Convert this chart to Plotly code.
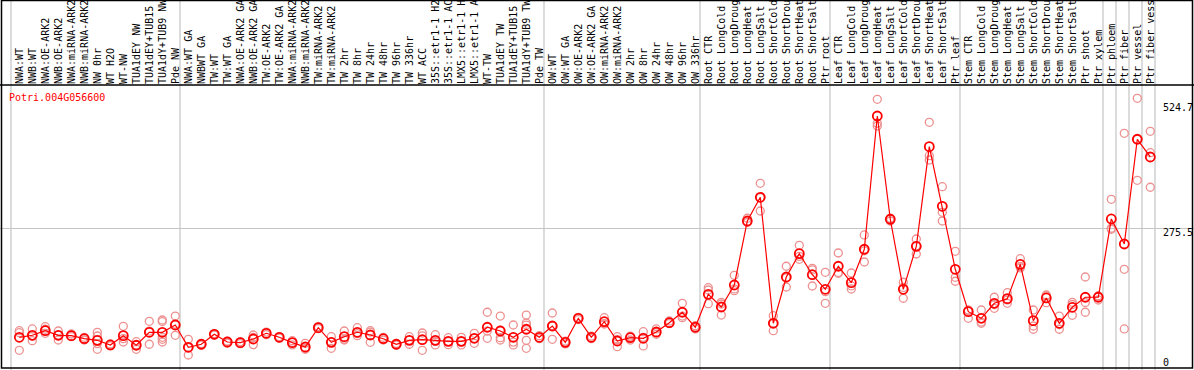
import plotly.graph_objects as go

categories = [
    "NWA:WT", "NWB:WT", "NWA:OE-ARK2", "NWB:OE-ARK2", "NWA:miRNA-ARK2", "NWB:miRNA-ARK2",
    "NW 0hr", "WT H2O", "WT-NW", "TUA1dEY NW", "TUA1dEY+TUB15", "TUA1dY+TUB9 NW", "Pde NW",
    "NWA:WT GA", "NWBWT GA", "TW:WT", "TW:WT GA", "NWA:OE-ARK2 GA", "NWB:OE-ARK2 GA",
    "TW:OE-ARK2", "TW:OE-ARK2 GA", "NWA:miRNA-ARK2", "NWB:miRNA-ARK2", "TW:miRNA-ARK2",
    "TW:miRNA-ARK2", "TW 2hr", "TW 8hr", "TW 24hr", "TW 48hr", "TW 96hr", "TW 336hr", "WT ACC",
    "35S::etr1-1 H2O", "35S::etr1-1 ACC", "LMX5::etr1-1 H2O", "LMX5::etr1-1 ACC", "WT-TW",
    "TUA1dEY TW", "TUA1dEY+TUB15", "TUA1dY+TUB9 TW", "Pde TW",
    "OW:WT", "OW:WT GA", "OW:OE-ARK2", "OW:OE-ARK2 GA", "OW:miRNA-ARK2", "OW:miRNA-ARK2",
    "OW 2hr", "OW 8hr", "OW 24hr", "OW 48hr", "OW 96hr", "OW 336hr",
    "Root CTR", "Root LongCold", "Root LongDrought", "Root LongHeat", "Root LongSalt",
    "Root ShortCold", "Root ShortDrought", "Root ShortHeat", "Root ShortSalt", "Ptr root",
    "Leaf CTR", "Leaf LongCold", "Leaf LongDrought", "Leaf LongHeat", "Leaf LongSalt",
    "Leaf ShortCold", "Leaf ShortDrought", "Leaf ShortHeat", "Leaf ShortSalt", "Ptr leaf",
    "Stem CTR", "Stem LongCold", "Stem LongDrought", "Stem LongHeat", "Stem LongSalt",
    "Stem ShortCold", "Stem ShortDrought", "Stem ShortHeat", "Stem ShortSalt", "Ptr shoot",
    "Ptr xylem", "Ptr phloem", "Ptr fiber", "Ptr vessel", "Ptr fiber vessel",
]

group_sizes = [13, 28, 12, 10, 10, 11, 1, 1, 1, 1]

means = [
    57.6, 61.6, 70.8, 61.6, 60.8, 54.8, 51.6, 42.3, 60.8, 41.7, 67.6, 67.6, 82.1,
    37.7, 43.7, 63.6, 48.2, 46.9, 54.2, 65.6, 57.6, 46.9, 38.3, 76.8, 47.6, 58.8, 67.6,
    62.2, 54.8, 43.7, 51.6, 52.8, 51.6, 49.6, 49.6, 55.6, 77.6, 70.2, 57.6, 73.6, 57.6,
    80.1, 47.6, 95.5, 57.6, 88.7, 50.2, 56.8, 55.6, 68.2, 86.7, 107.5, 77.6,
    143.3, 118.0, 161.9, 289.5, 336.7, 85.5, 177.8, 224.3, 182.4, 153.3,
    199.2, 166.5, 233.1, 498.8, 292.9, 153.3, 239.0, 437.6, 318.8, 193.2,
    108.7, 95.5, 125.4, 134.6, 203.1, 90.7, 136.0, 85.5, 117.4, 137.4, 137.4,
    293.5, 243.6, 452.4, 417.1,
]

replicates = [
    [70.8, 66.8, 31.7], [74.2, 50.8, 60.0], [78.7, 73.6, 65.6], [70.2, 52.2, 62.0],
    [64.2, 58.8], [57.6, 52.2], [67.6, 60.2, 33.7, 45.0], [44.3, 40.3], [79.5, 48.2, 55.0],
    [48.8, 33.7, 42.0], [89.5, 43.7, 70.0], [92.1, 89.0, 57.6, 53.6, 48.2], [100.0, 61.6, 84.0],
    [53.6, 22.3, 37.0], [45.0, 42.0], [65.0, 62.0], [50.0, 46.0], [49.0, 45.0],
    [62.2, 57.6, 43.0], [68.0, 63.0], [59.0, 56.0], [50.8, 42.3, 47.6], [45.6, 33.7, 35.6],
    [79.0, 75.0], [58.8, 35.7, 48.3], [70.2, 52.2, 54.0], [76.8, 60.8, 65.0],
    [70.8, 47.6, 68.0], [57.6, 52.2], [45.6, 41.8], [58.8, 43.7, 52.0], [66.2, 31.7, 60.5],
    [62.8, 42.3, 49.6], [56.8, 42.9, 49.0], [57.6, 42.3, 49.0], [65.6, 45.6, 55.6],
    [107.5, 55.6, 70.0], [100.0, 56.8, 52.2, 72.0], [82.1, 42.3, 48.0],
    [102.0, 86.0, 82.0, 51.6, 35.7], [60.8, 55.0],
    [106.0, 53.6, 80.5], [44.3, 50.0], [97.5, 93.0], [60.0, 55.0], [96.7, 84.1, 85.0],
    [58.8, 38.9, 53.0], [52.2, 60.0, 58.0], [68.8, 40.3, 57.6], [74.2, 63.6, 66.8],
    [90.1, 85.0], [125.4, 96.7, 100.0], [80.7, 74.2],
    [156.5, 151.9, 124.6], [127.4, 102.0, 124.0], [181.2, 150.5, 154.0], [294.9, 286.9, 287.0],
    [364.6, 309.4, 336.0], [100.7, 70.8, 85.0], [199.2, 157.9, 176.0], [241.0, 213.1, 219.0],
    [195.2, 159.9, 192.0], [187.2, 148.5, 125.4],
    [225.7, 185.2, 187.0], [185.8, 153.9, 160.0], [261.6, 207.7, 230.0], [532.1, 484.3, 478.9],
    [294.9, 289.5, 294.0], [167.3, 135.4, 157.0], [253.6, 223.7, 240.0], [486.2, 419.7, 411.1],
    [357.9, 306.8, 289.5], [229.1, 177.2, 169.3],
    [112.0, 95.5, 110.0], [112.0, 85.5, 88.0], [137.4, 115.4, 123.0], [146.5, 125.4, 132.0],
    [214.3, 198.4, 196.0], [112.0, 80.1, 73.6], [141.9, 126.6, 140.0], [100.0, 73.6, 83.0],
    [127.4, 101.5, 123.0], [177.8, 107.5, 127.0], [132.0, 140.0, 140.0],
    [332.7, 272.9, 275.0], [464.3, 193.2, 74.2], [534.1, 370.6, 452.0], [468.3, 356.7, 425.6],
]

y_labels = [524.7, 275.5, 0]
title_text = "Potri.004G056600"

# ---- layout geometry (pixels) ----
W, H = 1194, 370
TOP = 85
PLOT_H = H - TOP
first_px, step_px, sep_px0 = 19.3, 13.0, 11.0
x_range = [(0 - first_px) / step_px, (W - first_px) / step_px]
y_range = [-7.6, 560.6]
FONT = "DejaVu Sans Mono"

xs = list(range(len(categories)))
rep_x, rep_y = [], []
for i, vals in enumerate(replicates):
    for v in vals:
        rep_x.append(i)
        rep_y.append(v)

fig = go.Figure()
fig.add_trace(go.Scatter(
    x=rep_x, y=rep_y, mode="markers",
    marker=dict(symbol="circle-open", size=8, color="#ec9090", line=dict(width=1.3, color="#ec9090")),
    hoverinfo="skip", showlegend=False,
))
fig.add_trace(go.Scatter(
    x=xs, y=means, mode="lines+markers",
    line=dict(color="#ff0000", width=1.2),
    marker=dict(symbol="circle-open", size=9, color="#ff0000", line=dict(width=1.8, color="#ff0000")),
    showlegend=False,
))

shapes = []
bounds = [0]
for g in group_sizes:
    bounds.append(bounds[-1] + g)
top_paper = H / PLOT_H
for k in bounds:
    xu = (sep_px0 + step_px * k - first_px) / step_px
    shapes.append(dict(type="line", xref="x", yref="paper", x0=xu, x1=xu, y0=0, y1=top_paper,
                       line=dict(color="#c4c4c4", width=1.2), layer="below"))
shapes.append(dict(type="rect", xref="paper", yref="paper", x0=1.5 / W, x1=(W - 1.5) / W,
                   y0=2 / PLOT_H, y1=(H - 0.5) / PLOT_H, line=dict(color="black", width=1.5)))
shapes.append(dict(type="line", xref="paper", yref="paper", x0=0, x1=1, y0=1, y1=1,
                   line=dict(color="black", width=1.5)))

annotations = []
shifts = [-4, -4, 4]
for v, s in zip(y_labels, shifts):
    annotations.append(dict(text=str(v), xref="paper", yref="y", x=1161 / W, y=v, yshift=s,
                            xanchor="left", yanchor="middle", showarrow=False,
                            font=dict(family=FONT, size=10, color="black")))
annotations.append(dict(text=title_text, xref="paper", yref="paper", x=7 / W, y=(H - 97) / PLOT_H,
                        xanchor="left", yanchor="middle", showarrow=False,
                        font=dict(family=FONT, size=10, color="#ff0000")))

fig.update_layout(
    width=W, height=H,
    margin=dict(l=0, r=0, t=TOP, b=0, autoexpand=False),
    paper_bgcolor="white", plot_bgcolor="white",
    shapes=shapes, annotations=annotations,
    xaxis=dict(range=x_range, tickmode="array", tickvals=xs, ticktext=categories,
               side="top", tickangle=-90, ticks="", showgrid=False, zeroline=False,
               showline=False, automargin=False,
               tickfont=dict(family=FONT, size=10, color="black")),
    yaxis=dict(range=y_range, tickmode="array", tickvals=[275.5], showticklabels=False,
               showgrid=True, gridcolor="#c4c4c4", gridwidth=1.2, zeroline=False, showline=False,
               automargin=False),
)

fig.write_html("out.html", config={"displayModeBar": False},
               post_script="document.body.style.margin='0';document.body.style.overflow='hidden';")
